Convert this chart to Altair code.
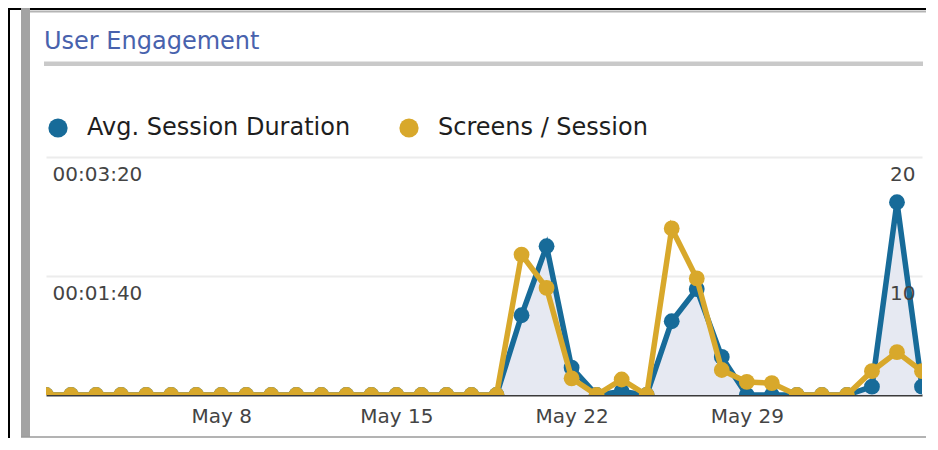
import altair as alt
import pandas as pd

TITLE = "User Engagement"
SERIES = ["Avg. Session Duration", "Screens / Session"]

DATES = [
    "2017-05-01", "2017-05-02", "2017-05-03", "2017-05-04", "2017-05-05", "2017-05-06",
    "2017-05-07", "2017-05-08", "2017-05-09", "2017-05-10", "2017-05-11", "2017-05-12",
    "2017-05-13", "2017-05-14", "2017-05-15", "2017-05-16", "2017-05-17", "2017-05-18",
    "2017-05-19", "2017-05-20", "2017-05-21", "2017-05-22", "2017-05-23", "2017-05-24",
    "2017-05-25", "2017-05-26", "2017-05-27", "2017-05-28", "2017-05-29", "2017-05-30",
    "2017-05-31", "2017-06-01", "2017-06-02", "2017-06-03", "2017-06-04", "2017-06-05",
]
# Avg. session duration in seconds
SESSION_SECONDS = [
    0, 0, 0, 0, 0, 0, 0, 0, 0, 0, 0, 0, 0, 0, 0, 0, 0, 0, 0,
    67, 125, 23, 0, 3, 0, 62, 89, 32, 0, 0, 0, 0, 0, 7, 162, 7,
]
SCREENS_PER_SESSION = [
    0, 0, 0, 0, 0, 0, 0, 0, 0, 0, 0, 0, 0, 0, 0, 0, 0, 0, 0,
    11.8, 9.0, 1.4, 0, 1.3, 0, 14.0, 9.8, 2.1, 1.1, 1.0, 0, 0, 0, 2.0, 3.6, 2.0,
]
X_DOMAIN = ["2017-05-01", "2017-06-05"]
X_TICKS = ["2017-05-08", "2017-05-15", "2017-05-22", "2017-05-29"]
LEFT_TICKS = [100, 200]
LEFT_DOMAIN = [0, 200]
RIGHT_TICKS = [10, 20]
RIGHT_DOMAIN = [0, 20]

BLUE = "#176b99"
YELLOW = "#d8a82b"
AREA = "#e6e9f2"
FONT = "DejaVu Sans"


def dt(s):
    y, m, d = (int(p) for p in s.split("-"))
    return alt.DateTime(year=y, month=m, date=d, utc=True)


rows = []
for d, v in zip(DATES, SESSION_SECONDS):
    rows.append({"date": d, "series": SERIES[0], "value": v})
for d, v in zip(DATES, SCREENS_PER_SESSION):
    rows.append({"date": d, "series": SERIES[1], "value": v})
df = pd.DataFrame(rows)

X = alt.X(
    "date:T",
    scale=alt.Scale(type="utc", domain=[dt(s) for s in X_DOMAIN], nice=False),
    axis=alt.Axis(
        values=[dt(s) for s in X_TICKS], format="%b %-d", title=None, grid=False,
        ticks=False, domain=True, domainColor="#3a3a3a", domainWidth=2,
        labelFont=FONT, labelFontSize=20, labelColor="#444444", labelPadding=11,
        labelFlush=False,
    ),
)
YB = alt.Y(
    "value:Q",
    scale=alt.Scale(domain=LEFT_DOMAIN, nice=False),
    axis=alt.Axis(
        orient="left", values=LEFT_TICKS,
        labelExpr="utcFormat(datum.value * 1000, '%H:%M:%S')",
        title=None, domain=False, ticks=False, grid=True, gridColor="#ececec",
        gridWidth=2, labelAlign="left", labelBaseline="top", labelPadding=-6,
        labelOffset=7, labelFont=FONT, labelFontSize=20, labelColor="#444444",
    ),
)
YY = alt.Y(
    "value:Q",
    scale=alt.Scale(domain=RIGHT_DOMAIN, nice=False),
    axis=alt.Axis(
        orient="right", values=RIGHT_TICKS, title=None, domain=False, ticks=False,
        grid=False, labelAlign="right", labelBaseline="top", labelPadding=-7,
        labelOffset=7, labelFont=FONT, labelFontSize=20, labelColor="#444444",
        zindex=1,
    ),
)
COLOR = alt.Color(
    "series:N",
    title=None,
    scale=alt.Scale(domain=SERIES, range=[BLUE, YELLOW]),
    legend=alt.Legend(
        orient="none", legendX=0, legendY=-41, direction="horizontal",
        symbolType="circle", symbolSize=370, symbolStrokeWidth=0,
        labelFont=FONT, labelFontSize=24, labelColor="#1e1e1e", labelOffset=17,
        labelLimit=600, columnPadding=46, padding=0,
    ),
)

base = alt.Chart(df)
blue_f = alt.datum.series == SERIES[0]
yellow_f = alt.datum.series == SERIES[1]

area = base.mark_area(color=AREA, clip=True).encode(x=X, y=YB).transform_filter(blue_f)
line_b = base.mark_line(color=BLUE, strokeWidth=5.5, clip=True).encode(x=X, y=YB).transform_filter(blue_f)
pts_b = base.mark_circle(size=250, opacity=1, clip=True).encode(x=X, y=YB, color=COLOR).transform_filter(blue_f)
line_y = base.mark_line(color=YELLOW, strokeWidth=5.5, clip=True).encode(x=X, y=YY).transform_filter(yellow_f)
pts_y = base.mark_circle(size=250, opacity=1, clip=True).encode(x=X, y=YY, color=COLOR).transform_filter(yellow_f)

blue = alt.layer(area, line_b, pts_b)
yellow = alt.layer(line_y, pts_y)

frame_top = alt.Chart().mark_rule(color="#000000", strokeWidth=2).encode(
    x=alt.value(-38), x2=alt.value(880), y=alt.value(-148))
frame_top2 = alt.Chart().mark_rule(color="#b4b4b4", strokeWidth=2).encode(
    x=alt.value(-16), x2=alt.value(880), y=alt.value(-145.5))
frame_left = alt.Chart().mark_rule(color="#000000", strokeWidth=2).encode(
    x=alt.value(-37), y=alt.value(-149), y2=alt.value(281))
side_bar = alt.Chart().mark_rule(color="#a3a3a3", strokeWidth=9).encode(
    x=alt.value(-20.5), y=alt.value(-149), y2=alt.value(280))
frame_bottom = alt.Chart().mark_rule(color="#9a9a9a", strokeWidth=1.5).encode(
    x=alt.value(-25), x2=alt.value(880), y=alt.value(280))
title_rule = alt.Chart().mark_rule(color="#c9c9c9", strokeWidth=4.5).encode(
    x=alt.value(-2), x2=alt.value(877), y=alt.value(-93.2))
title_text = alt.Chart(pd.DataFrame({"t": [TITLE]})).mark_text(
    align="left", baseline="alphabetic", font=FONT, fontSize=24, color="#4862ad"
).encode(x=alt.value(-2), y=alt.value(-108), text="t:N")

chart = alt.layer(
    frame_top, frame_top2, frame_left, side_bar, frame_bottom, title_rule,
    blue, yellow, title_text,
).resolve_scale(y="independent").properties(
    width=876, height=238, background="white",
    padding={"left": 38, "top": 149, "right": 8, "bottom": 43},
    autosize=alt.AutoSizeParams(type="none"),
).configure_view(strokeWidth=0, stroke="transparent")

chart.save("out.html", embed_options={"renderer": "svg", "actions": False})
